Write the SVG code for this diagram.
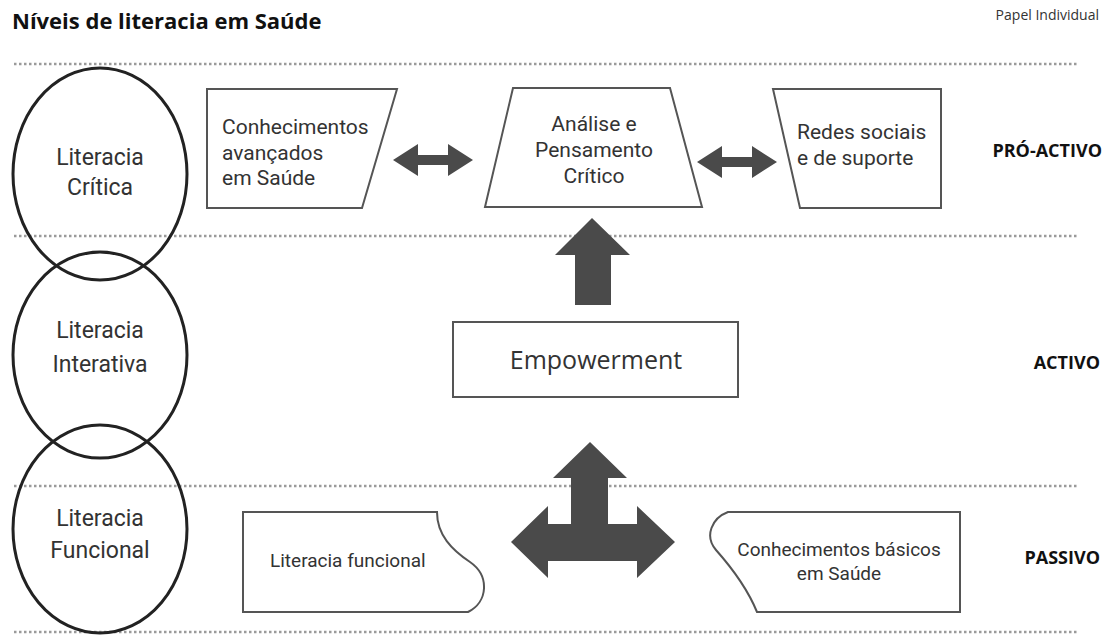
<svg xmlns="http://www.w3.org/2000/svg" width="1107" height="637" viewBox="0 0 1107 637">
<style>
.dot{stroke:#9a9a9a;stroke-width:2.5;stroke-dasharray:2.5 2.5;fill:none}
.ell{fill:none;stroke:#222;stroke-width:3}
.box{fill:#fff;stroke:#555;stroke-width:2}
.arr{fill:#4a4a4a}
.t{font-family:Roboto,"Liberation Sans",sans-serif;fill:#333;font-size:21px}
.s{font-size:19px}
.et{font-family:Roboto,"Liberation Sans",sans-serif;fill:#333;font-size:23px;text-anchor:middle}
.lvl{font-family:"Open Sans","Liberation Sans",sans-serif;font-weight:bold;fill:#111;font-size:18px;text-anchor:end}
</style>
<rect width="1107" height="637" fill="#fff"/>
<text x="12" y="29" font-family="'Open Sans','Liberation Sans',sans-serif" font-weight="bold" font-size="22" fill="#111">Níveis de literacia em Saúde</text>
<text x="1099" y="20" font-family="'Open Sans','Liberation Sans',sans-serif" font-size="14" fill="#333" text-anchor="end">Papel Individual</text>
<g id="separators">
<line class="dot" x1="14" y1="64" x2="1077" y2="64"/>
<line class="dot" x1="14" y1="236" x2="1077" y2="236"/>
<line class="dot" x1="14" y1="486" x2="1077" y2="486"/>
<line class="dot" x1="14" y1="632" x2="1077" y2="632"/>
</g>
<g id="lit-critica">
<ellipse class="ell" cx="100" cy="174" rx="87" ry="106"/>
<text class="et" x="100" y="165">Literacia</text>
<text class="et" x="100" y="195">Crítica</text>
</g>
<g id="lit-interativa">
<ellipse class="ell" cx="100" cy="355" rx="87" ry="103"/>
<text class="et" x="100" y="338">Literacia</text>
<text class="et" x="100" y="372">Interativa</text>
</g>
<g id="lit-funcional">
<ellipse class="ell" cx="100" cy="529" rx="87" ry="104"/>
<text class="et" x="100" y="526">Literacia</text>
<text class="et" x="100" y="558">Funcional</text>
</g>
<g id="conh-avancados">
<polygon class="box" points="207,89 397,89 362,208 207,208"/>
<text class="t" x="222" y="134">Conhecimentos</text>
<text class="t" x="222" y="160">avançados</text>
<text class="t" x="222" y="185">em Saúde</text>
</g>
<g id="analise">
<polygon class="box" points="513,88 670,88 702,207 485,207"/>
<text class="t" x="594" y="131" text-anchor="middle">Análise e</text>
<text class="t" x="594" y="157" text-anchor="middle">Pensamento</text>
<text class="t" x="594" y="183" text-anchor="middle">Crítico</text>
</g>
<g id="redes">
<polygon class="box" points="773,89 941,89 941,208 800,208"/>
<text class="t" x="797" y="139">Redes sociais</text>
<text class="t" x="797" y="165">e de suporte</text>
</g>
<g id="empowerment">
<rect class="box" x="453" y="322" width="285" height="75"/>
<text x="596" y="369" font-family="'Open Sans','Liberation Sans',sans-serif" font-size="25" fill="#333" text-anchor="middle">Empowerment</text>
</g>
<g id="lit-funcional-box">
<path class="box" d="M243,512 H437 C437,535 452,550 470,562 C490,576 488,602 468,612 H243 Z"/>
<text class="t s" x="270" y="567">Literacia funcional</text>
</g>
<g id="conh-basicos">
<path class="box" d="M960,512 H728 C712,518 704,536 716,550 C732,568 748,590 757,612 H960 Z"/>
<text class="t s" x="839" y="556" text-anchor="middle">Conhecimentos básicos</text>
<text class="t s" x="839" y="580" text-anchor="middle">em Saúde</text>
</g>
<g id="connectors">
<polygon class="arr" points="393,160 418,144 418,155 448,155 448,144 473,160 448,176 448,165 418,165 418,176"/>
<polygon class="arr" points="697,162 722,146 722,157 752,157 752,146 777,162 752,178 752,167 722,167 722,178"/>
<polygon class="arr" points="592,218 630,255 611,255 611,305 575,305 575,255 555,255"/>
<polygon class="arr" points="590,442 627,478 608,478 608,524 637,524 637,506 675,542 637,578 637,561 548,561 548,578 511,542 548,506 548,524 571,524 571,478 553,478"/>
</g>
<text class="lvl" x="1102" y="157">PRÓ-ACTIVO</text>
<text class="lvl" x="1100" y="369">ACTIVO</text>
<text class="lvl" x="1100" y="564">PASSIVO</text>
</svg>
